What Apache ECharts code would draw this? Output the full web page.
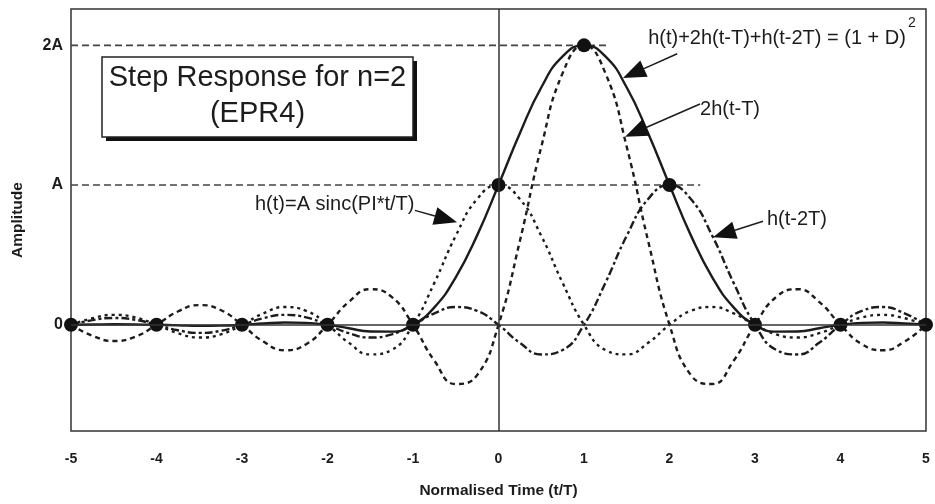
<!DOCTYPE html>
<html>
<head>
<meta charset="utf-8">
<script src="https://cdn.jsdelivr.net/npm/echarts@6/dist/echarts.min.js"></script>
<style>
  html, body { margin: 0; padding: 0; background: #ffffff; }
  #chart { width: 935px; height: 504px; }
</style>
</head>
<body>
<div id="chart"></div>
<script>
// Normalised time samples (t/T)
const tValues = [-5, -4.75, -4.5, -4.25, -4, -3.75, -3.5, -3.25, -3, -2.75, -2.5, -2.25, -2,
  -1.75, -1.5, -1.25, -1, -0.75, -0.5, -0.25, 0, 0.25, 0.5, 0.75, 1, 1.25, 1.5, 1.75, 2,
  2.25, 2.5, 2.75, 3, 3.25, 3.5, 3.75, 4, 4.25, 4.5, 4.75, 5];

// h(t) = A sinc(PI*t/T)
const hValues = [0, 0.047, 0.071, 0.053, 0, -0.060, -0.091, -0.069, 0, 0.082, 0.127, 0.100, 0,
  -0.129, -0.212, -0.180, 0, 0.300, 0.637, 0.900, 1, 0.900, 0.637, 0.300, 0, -0.180, -0.212, -0.129, 0,
  0.100, 0.127, 0.082, 0, -0.069, -0.091, -0.060, 0, 0.053, 0.071, 0.047, 0];

// 2h(t-T)
const h1Values = [0, -0.078, -0.116, -0.086, 0, 0.095, 0.141, 0.106, 0, -0.120, -0.182, -0.139, 0,
  0.164, 0.255, 0.200, 0, -0.257, -0.424, -0.360, 0, 0.600, 1.273, 1.801, 2, 1.801, 1.273, 0.600, 0,
  -0.360, -0.424, -0.257, 0, 0.200, 0.255, 0.164, 0, -0.139, -0.182, -0.120, 0];

// h(t-2T)
const h2Values = [0, 0.033, 0.049, 0.036, 0, -0.039, -0.058, -0.043, 0, 0.047, 0.071, 0.053, 0,
  -0.060, -0.091, -0.069, 0, 0.082, 0.127, 0.100, 0, -0.129, -0.212, -0.180, 0, 0.300, 0.637, 0.900, 1,
  0.900, 0.637, 0.300, 0, -0.180, -0.212, -0.129, 0, 0.100, 0.127, 0.082, 0];

// h(t)+2h(t-T)+h(t-2T)
const sumValues = [0, 0.002, 0.004, 0.003, 0, -0.004, -0.008, -0.006, 0, 0.009, 0.016, 0.014, 0,
  -0.025, -0.048, -0.049, 0, 0.125, 0.340, 0.640, 1, 1.371, 1.698, 1.921, 2, 1.921, 1.698, 1.371, 1,
  0.640, 0.340, 0.125, 0, -0.049, -0.048, -0.025, 0, 0.014, 0.016, 0.009, 0];

// Sampling instants on the combined response
const sampleT = [-5, -4, -3, -2, -1, 0, 1, 2, 3, 4, 5];
const sampleValues = [0, 0, 0, 0, 0, 1, 2, 1, 0, 0, 0];

// Amplitude axis labels
const yTickValues = [0, 1, 2];
const yTickLabels = ['0', 'A', '2A'];

// Reference levels (A and 2A) and where their guide lines stop
const guideLevels = [2, 1];
const guideEnds = [1.28, 2.36];

// Callouts: label, label anchor, arrow tail and arrow tip (data units)
const callouts = [
  { label: 'h(t)+2h(t-T)+h(t-2T) = (1 + D)', at: [1.75, 2.05], tail: [2.09, 1.94], tip: [1.456, 1.766] },
  { label: '2h(t-T)', at: [2.357, 1.54], tail: [2.357, 1.58], tip: [1.48, 1.346] },
  { label: 'h(t)=A sinc(PI*t/T)', at: [-2.848, 0.862], tail: [-0.977, 0.819], tip: [-0.485, 0.734] },
  { label: 'h(t-2T)', at: [3.14, 0.755], tail: [3.094, 0.741], tip: [2.509, 0.627] }
];
const superscript = { label: '2', at: [4.79, 2.158] };

const zip = (xs, ys) => xs.map((x, i) => [x, ys[i]]);

const FONT = '"Liberation Sans", Arial, sans-serif';
const INK = '#1c1c1c';

const chart = echarts.init(document.getElementById('chart'), null, { renderer: 'canvas' });

const curveStyle = (type) => ({ color: INK, width: 2.4, type: type });

const guideSeries = guideLevels.map((lvl, i) => ({
  type: 'line',
  data: [[-5, lvl], [guideEnds[i], lvl]],
  showSymbol: false,
  silent: true,
  lineStyle: { color: '#444', width: 1.6, type: [7, 4] },
  z: 1
}));

chart.setOption({
  animation: false,
  backgroundColor: '#ffffff',
  grid: {
    left: 71, right: 9, top: 9, bottom: 71,
    show: true, borderColor: '#333', borderWidth: 1.5, backgroundColor: '#ffffff'
  },
  xAxis: {
    type: 'value',
    min: -5, max: 5, interval: 1,
    name: 'Normalised Time (t/T)',
    nameLocation: 'middle',
    nameGap: 52,
    nameTextStyle: { fontFamily: FONT, fontSize: 15.5, fontWeight: 'bold', color: INK },
    axisLine: { show: false },
    axisTick: { show: false },
    splitLine: { show: false },
    axisLabel: { margin: 21, fontFamily: FONT, fontSize: 14, fontWeight: 'bold', color: INK }
  },
  yAxis: {
    type: 'value',
    min: -0.76, max: 2.26,
    name: 'Amplitude',
    nameLocation: 'middle',
    nameGap: 45,
    nameTextStyle: { fontFamily: FONT, fontSize: 15.5, fontWeight: 'bold', color: INK },
    axisLine: { show: false },
    axisTick: { show: false },
    splitLine: { show: false },
    axisLabel: {
      customValues: yTickValues,
      margin: 8,
      fontFamily: FONT, fontSize: 16, fontWeight: 'bold', color: INK,
      formatter: (v) => {
        const i = yTickValues.indexOf(Math.round(v * 1000) / 1000);
        return i >= 0 ? yTickLabels[i] : '';
      }
    }
  },
  series: [
    ...guideSeries,
    {
      name: 'axes',
      type: 'line',
      data: [],
      silent: true,
      markLine: {
        silent: true,
        symbol: 'none',
        label: { show: false },
        lineStyle: { color: '#333', width: 1.5, type: 'solid' },
        data: [{ yAxis: 0 }, { xAxis: 0 }]
      },
      z: 1
    },
    {
      name: 'h(t)',
      type: 'line',
      data: zip(tValues, hValues),
      smooth: 0.5,
      showSymbol: false,
      lineStyle: curveStyle([3, 4]),
      z: 2
    },
    {
      name: '2h(t-T)',
      type: 'line',
      data: zip(tValues, h1Values),
      smooth: 0.5,
      showSymbol: false,
      lineStyle: curveStyle([5, 4]),
      z: 2
    },
    {
      name: 'h(t-2T)',
      type: 'line',
      data: zip(tValues, h2Values),
      smooth: 0.5,
      showSymbol: false,
      lineStyle: curveStyle([8, 3, 3, 3]),
      z: 2
    },
    {
      name: 'h(t)+2h(t-T)+h(t-2T)',
      type: 'line',
      data: zip(tValues, sumValues),
      smooth: 0.5,
      showSymbol: false,
      lineStyle: { color: INK, width: 2.4, type: 'solid' },
      z: 3
    },
    {
      name: 'samples',
      type: 'scatter',
      data: zip(sampleT, sampleValues),
      symbol: 'circle',
      symbolSize: 14,
      clip: false,
      itemStyle: { color: '#111', opacity: 1 },
      z: 4
    }
  ]
});

// Title box with drop shadow plus the arrowed callouts
function buildGraphics() {
  const px = (p) => chart.convertToPixel({ gridIndex: 0 }, p);
  const els = [];

  const box = { x: 102, y: 57, w: 311, h: 80 };
  els.push({ type: 'rect', shape: { x: box.x + 4, y: box.y + 4, width: box.w, height: box.h },
    style: { fill: '#111' }, z: 10 });
  els.push({ type: 'rect', shape: { x: box.x, y: box.y, width: box.w, height: box.h },
    style: { fill: '#fff', stroke: '#222', lineWidth: 1.5 }, z: 11 });
  ['Step Response for n=2', '(EPR4)'].forEach((line, i) => {
    els.push({ type: 'text', z: 12,
      style: { text: line, x: box.x + box.w / 2, y: 78 + i * 36, fill: INK,
        font: '29px ' + FONT, align: 'center', verticalAlign: 'middle',
        textAlign: 'center', textVerticalAlign: 'middle' } });
  });

  const headLen = 23, headWidth = 18;
  callouts.forEach((c) => {
    const a = px(c.at), t0 = px(c.tail), t1 = px(c.tip);
    const dx = t1[0] - t0[0], dy = t1[1] - t0[1];
    const len = Math.hypot(dx, dy);
    const ux = dx / len, uy = dy / len;
    const bx = t1[0] - ux * headLen, by = t1[1] - uy * headLen;
    const nx = -uy * headWidth / 2, ny = ux * headWidth / 2;
    els.push({ type: 'line', z: 12, shape: { x1: t0[0], y1: t0[1], x2: bx, y2: by },
      style: { stroke: INK, lineWidth: 1.5 } });
    els.push({ type: 'polygon', z: 12,
      shape: { points: [[t1[0], t1[1]], [bx + nx, by + ny], [bx - nx, by - ny]] },
      style: { fill: '#111' } });
    els.push({ type: 'text', z: 12,
      style: { text: c.label, x: a[0], y: a[1], fill: INK, font: '20px ' + FONT,
        align: 'left', verticalAlign: 'middle', textAlign: 'left', textVerticalAlign: 'middle' } });
  });
  const s = px(superscript.at);
  els.push({ type: 'text', z: 12,
    style: { text: superscript.label, x: s[0], y: s[1], fill: INK, font: '14px ' + FONT,
      align: 'left', verticalAlign: 'middle', textAlign: 'left', textVerticalAlign: 'middle' } });
  return els;
}

chart.setOption({ graphic: { elements: buildGraphics() } });
</script>
</body>
</html>
